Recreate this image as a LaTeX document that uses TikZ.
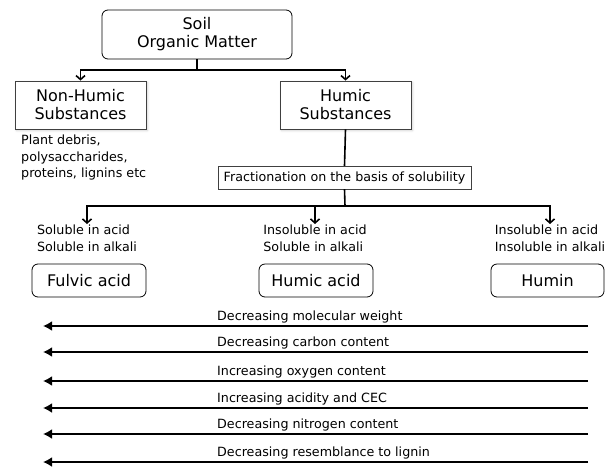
\documentclass[tikz,border=0pt]{standalone}
\usepackage{fontspec}
\setmainfont{DejaVu Sans}
\usetikzlibrary{arrows.meta,positioning,shadows.blur}

\tikzset{
  bigfont/.style={font=\fontsize{16}{20}\selectfont},
  smallfont/.style={font=\fontsize{12.7}{16.5}\selectfont},
  rbox/.style={draw, fill=white, rounded corners=6pt, thick, bigfont, align=center},
  sbox/.style={draw=black!75, fill=white, thick, bigfont, align=center,
    minimum width=131pt, minimum height=48pt,
    blur shadow={shadow xshift=1.5pt, shadow yshift=-1.5pt, shadow blur steps=4, shadow opacity=20}},
  fbox/.style={draw=black!75, smallfont, minimum width=253pt, minimum height=23pt, inner sep=2pt},
  solbox/.style={smallfont, align=left, anchor=north, inner sep=1pt},
  link/.style={line width=1.6pt},
  down/.style={line width=1.6pt, -{Straight Barb[length=4pt,width=9pt]}},
  trend/.style={line width=1.8pt, -{Latex[length=9pt,width=10pt]}},
}

\begin{document}
\begin{tikzpicture}[x=1pt,y=-1pt]
  \useasboundingbox (0,0) rectangle (609,466);

  \node [rbox, minimum width=190pt, minimum height=49pt] (som) at (197,34.5) {Soil\\[-2pt]Organic Matter};
  \node [sbox] (nonhumic) at (80.5,105) {Non-Humic\\[-2pt]Substances};
  \node [sbox] (humic) at (345.5,105) {Humic\\[-2pt]Substances};
  \node [smallfont, align=left, anchor=north west, inner sep=0pt] (debris) at (21,135) {Plant debris,\\polysaccharides,\\proteins, lignins etc};
  \node [fbox] (frac) at (344.5,177.5) {Fractionation on the basis of solubility};

  \node [solbox] (sol1) at (87,224) {Soluble in acid\\Soluble in alkali};
  \node [solbox] (sol2) at (315,224) {Insoluble in acid\\Soluble in alkali};
  \node [solbox] (sol3) at (550,224) {Insoluble in acid\\Insoluble in alkali};

  \node [rbox, minimum width=114pt, minimum height=33pt] (fulvic) at (89,280.5) {Fulvic acid};
  \node [rbox, minimum width=114pt, minimum height=33pt] (humicacid) at (316,280.5) {Humic acid};
  \node [rbox, minimum width=113pt, minimum height=33pt] (humin) at (547.5,280.5) {Humin};

  % first split
  \coordinate (j1) at (197,70);
  \draw [link] (som.south) -- (j1);
  \draw [down] (j1) -| (nonhumic.north);
  \draw [down] (j1) -| (humic.north);

  % fractionation
  \draw [link] (humic.south) -- (frac.north);
  \coordinate (j2) at (345,206);
  \draw [link] (frac.south) -- (j2);
  \draw [down] (j2) -| (sol1.north);
  \draw [down] (j2) -| (sol2.north);
  \draw [down] (j2) -| (sol3.north);

  % trends
  \foreach \i/\y/\t in {1/326/Decreasing molecular weight,
                        2/352/Decreasing carbon content,
                        3/381/Increasing oxygen content,
                        4/408/Increasing acidity and CEC,
                        5/434/Decreasing nitrogen content,
                        6/462/Decreasing resemblance to lignin}{
    \coordinate (r\i) at (588,\y);
    \coordinate (l\i) at (43,\y);
    \draw [trend] (r\i) -- (l\i);
    \node [smallfont, anchor=base west, inner sep=0pt] (t\i) at (217,\y-6) {\t};
  }
\end{tikzpicture}
\end{document}
